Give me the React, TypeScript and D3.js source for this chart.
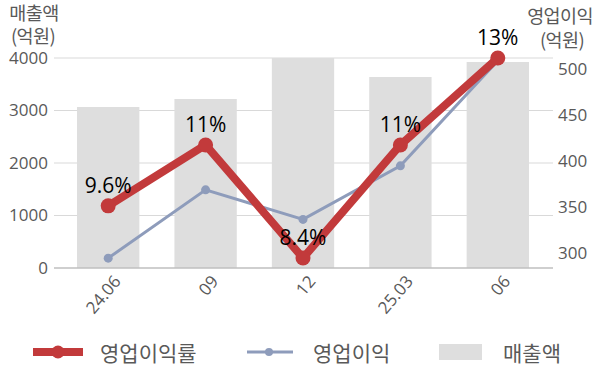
import React from "react";
import * as d3 from "d3";

const categories = ["24.06", "09", "12", "25.03", "06"];
const sales = [3067, 3219, 4000, 3638, 3924];
const opProfit = [295, 369, 337, 395, 509];
const opMargin = [9.6, 11, 8.4, 11, 13];
const marginLabels = ["9.6%", "11%", "8.4%", "11%", "13%"];
const leftTicks = [0, 1000, 2000, 3000, 4000];
const rightTicks = [300, 350, 400, 450, 500];

const W = 600;
const H = 383;
const plotLeft = 54;
const plotRight = 553;
const plotTop = 58;
const plotBottom = 268;

const numFont = "'Open Sans', 'Noto Sans', sans-serif";
const korFont = "'Noto Sans CJK KR', 'Noto Sans', sans-serif";

export default function App() {
  const x = d3.scaleBand<string>().domain(categories).range([59.5, 546.5]).paddingInner(0.36).paddingOuter(0.18);
  const yL = d3.scaleLinear().domain([0, 4000]).range([plotBottom, plotTop]);
  const yR = d3.scaleLinear().domain([284.3, 511.9]).range([plotBottom, plotTop]);
  const yP = d3.scaleLinear().domain([8.17, 13]).range([plotBottom, plotTop]);
  const cx = (c: string) => (x(c) as number) + x.bandwidth() / 2;

  const blueLine = d3.line<number>().x((_, i) => cx(categories[i])).y((d) => yR(d))(opProfit) as string;
  const redLine = d3.line<number>().x((_, i) => cx(categories[i])).y((d) => yP(d))(opMargin) as string;

  const red = "#c23a3b";
  const blue = "#8e9cbb";
  const barColor = "#dedede";
  const tickColor = "#595959";

  return (
    <svg width={W} height={H} style={{ position: "absolute", left: 0, top: 0, background: "#fff" }}>
      {leftTicks.slice(1).map((t) => (
        <line key={t} x1={plotLeft} x2={plotRight} y1={yL(t)} y2={yL(t)} stroke="#d9d9d9" strokeWidth={1} />
      ))}
      {categories.map((c, i) => (
        <rect key={c} x={x(c)} width={x.bandwidth()} y={yL(sales[i])} height={plotBottom - yL(sales[i])} fill={barColor} />
      ))}
      <line x1={plotLeft} x2={plotRight} y1={plotBottom} y2={plotBottom} stroke="#bfbfbf" strokeWidth={1.5} />
      {leftTicks.map((t) => (
        <text key={t} x={48} y={yL(t)} dy="0.35em" textAnchor="end" fontFamily={numFont} fontSize={17} fill={tickColor}>
          {t}
        </text>
      ))}
      {rightTicks.map((t) => (
        <text key={t} x={558} y={yR(t)} dy="0.35em" textAnchor="start" fontFamily={numFont} fontSize={17} fill={tickColor}>
          {t}
        </text>
      ))}
      <g fontFamily={korFont} fontSize={18.5} fill={tickColor} textAnchor="middle" letterSpacing={-0.6}>
        <text x={34} y={12} dominantBaseline="central">매출액</text>
        <text x={33} y={35} dominantBaseline="central">(억원)</text>
        <text x={560} y={15} dominantBaseline="central">영업이익</text>
        <text x={562} y={39} dominantBaseline="central">(억원)</text>
      </g>
      {categories.map((c) => (
        <text
          key={c}
          transform={`translate(${cx(c) + 9},${278}) rotate(-50)`}
          textAnchor="end"
          dy="0.35em"
          fontFamily={numFont}
          fontSize={17}
          fill={tickColor}
        >
          {c}
        </text>
      ))}
      <path d={blueLine} fill="none" stroke={blue} strokeWidth={3} />
      {opProfit.map((v, i) => (
        <circle key={i} cx={cx(categories[i])} cy={yR(v)} r={4.5} fill={blue} />
      ))}
      <path d={redLine} fill="none" stroke={red} strokeWidth={8} strokeLinejoin="round" />
      {opMargin.map((v, i) => (
        <circle key={i} cx={cx(categories[i])} cy={yP(v)} r={7.5} fill={red} />
      ))}
      {opMargin.map((v, i) => (
        <text key={i} x={cx(categories[i])} y={yP(v) - 13} textAnchor="middle" fontFamily={numFont} fontSize={21} fill="#000">
          {marginLabels[i]}
        </text>
      ))}
      <g fontFamily={korFont} fontSize={21} fill={tickColor}>
        <line x1={33} x2={83} y1={352} y2={352} stroke={red} strokeWidth={8} />
        <circle cx={58} cy={352} r={6.5} fill={red} />
        <text x={100} y={352} dominantBaseline="central">영업이익률</text>
        <line x1={247} x2={293} y1={352} y2={352} stroke={blue} strokeWidth={3} />
        <circle cx={269} cy={352} r={4} fill={blue} />
        <text x={313} y={352} dominantBaseline="central">영업이익</text>
        <rect x={439} y={344} width={43} height={16} fill={barColor} />
        <text x={503} y={352} dominantBaseline="central">매출액</text>
      </g>
    </svg>
  );
}
